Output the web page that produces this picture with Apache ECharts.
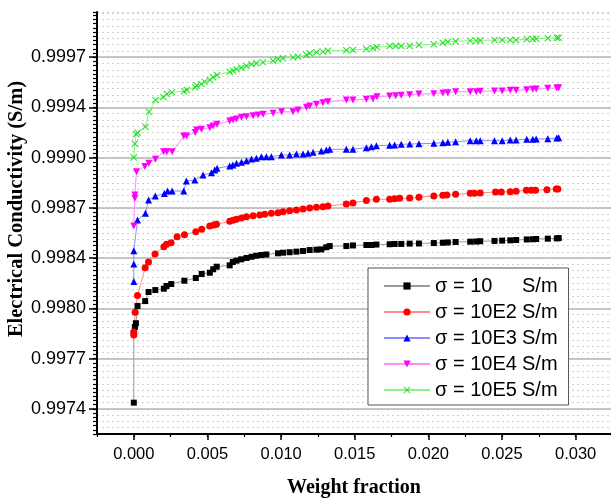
<!DOCTYPE html>
<html>
<head>
<meta charset="utf-8">
<script src="https://cdn.jsdelivr.net/npm/echarts@6/dist/echarts.min.js"></script>
<style>html,body{margin:0;padding:0;background:#fff;}#c{width:611px;height:499px;}</style>
</head>
<body>
<div id="c"></div>
<script>
// ---- data ----
const seriesNames = ['σ = 10 S/m', 'σ = 10E2 S/m', 'σ = 10E3 S/m', 'σ = 10E4 S/m', 'σ = 10E5 S/m'];

const xS1 = [0, 0, 0.00007, 0.00014, 0.00025, 0.00077, 0.00100, 0.00146, 0.00204, 0.00222, 0.00254, 0.00343, 0.00421, 0.00461, 0.00516, 0.00539, 0.00563, 0.00651, 0.00672, 0.00697, 0.00729, 0.00765, 0.00800, 0.00832, 0.00866, 0.00900, 0.00979, 0.01013, 0.01058, 0.01104, 0.01149, 0.01194, 0.01240, 0.01273, 0.01307, 0.01330, 0.01443, 0.01488, 0.01579, 0.01613, 0.01647, 0.01737, 0.01771, 0.01816, 0.01873, 0.01936, 0.02037, 0.02098, 0.02132, 0.02185, 0.02284, 0.02325, 0.02352, 0.02449, 0.02501, 0.02556, 0.02596, 0.02668, 0.02709, 0.02732, 0.02811, 0.02872, 0.02885];
const yS1 = [0.997408, 0.997870, 0.997910, 0.997935, 0.998049, 0.998082, 0.998142, 0.998155, 0.998164, 0.998182, 0.998195, 0.998217, 0.998235, 0.998262, 0.998270, 0.998293, 0.998310, 0.998319, 0.998341, 0.998350, 0.998359, 0.998368, 0.998376, 0.998383, 0.998388, 0.998391, 0.998399, 0.998403, 0.998406, 0.998410, 0.998414, 0.998421, 0.998423, 0.998425, 0.998439, 0.998447, 0.998447, 0.998451, 0.998454, 0.998454, 0.998457, 0.998459, 0.998461, 0.998461, 0.998463, 0.998464, 0.998467, 0.998469, 0.998471, 0.998474, 0.998476, 0.998477, 0.998479, 0.998481, 0.998483, 0.998485, 0.998487, 0.998491, 0.998492, 0.998494, 0.998496, 0.998498, 0.998500];

const xS2 = [0, 0, 0.00009, 0.00025, 0.00077, 0.00100, 0.00144, 0.00204, 0.00222, 0.00253, 0.00294, 0.00344, 0.00421, 0.00461, 0.00516, 0.00543, 0.00561, 0.00651, 0.00674, 0.00697, 0.00731, 0.00765, 0.00810, 0.00855, 0.00889, 0.00934, 0.00979, 0.01013, 0.01058, 0.01104, 0.01149, 0.01194, 0.01240, 0.01284, 0.01318, 0.01443, 0.01488, 0.01579, 0.01647, 0.01737, 0.01771, 0.01805, 0.01873, 0.01936, 0.02037, 0.02098, 0.02125, 0.02185, 0.02284, 0.02313, 0.02352, 0.02456, 0.02495, 0.02556, 0.02596, 0.02665, 0.02699, 0.02728, 0.02805, 0.02868, 0.02879];
const yS2 = [0.997857, 0.997877, 0.998008, 0.998119, 0.998303, 0.998341, 0.998394, 0.998443, 0.998459, 0.998469, 0.998509, 0.998522, 0.998542, 0.998558, 0.998580, 0.998587, 0.998591, 0.998611, 0.998618, 0.998625, 0.998633, 0.998642, 0.998648, 0.998653, 0.998658, 0.998664, 0.998668, 0.998675, 0.998682, 0.998686, 0.998693, 0.998700, 0.998704, 0.998708, 0.998713, 0.998726, 0.998733, 0.998749, 0.998757, 0.998757, 0.998761, 0.998764, 0.998766, 0.998771, 0.998779, 0.998784, 0.998786, 0.998790, 0.998797, 0.998797, 0.998799, 0.998806, 0.998806, 0.998808, 0.998810, 0.998817, 0.998817, 0.998817, 0.998821, 0.998826, 0.998826];

const xS3 = [0, 0, 0, 0.00025, 0.00079, 0.00100, 0.00146, 0.00207, 0.00229, 0.00260, 0.00339, 0.00357, 0.00414, 0.00470, 0.00527, 0.00549, 0.00565, 0.00651, 0.00672, 0.00697, 0.00731, 0.00765, 0.00799, 0.00832, 0.00866, 0.00900, 0.00934, 0.01002, 0.01058, 0.01104, 0.01149, 0.01183, 0.01217, 0.01273, 0.01307, 0.01330, 0.01443, 0.01488, 0.01579, 0.01613, 0.01647, 0.01737, 0.01771, 0.01816, 0.01873, 0.01936, 0.02037, 0.02098, 0.02132, 0.02185, 0.02284, 0.02325, 0.02352, 0.02449, 0.02501, 0.02556, 0.02596, 0.02668, 0.02709, 0.02732, 0.02811, 0.02872, 0.02885];
const yS3 = [0.998212, 0.998328, 0.998416, 0.998620, 0.998664, 0.998753, 0.998779, 0.998796, 0.998812, 0.998812, 0.998812, 0.998879, 0.998885, 0.998918, 0.998934, 0.998952, 0.998963, 0.998978, 0.998985, 0.998996, 0.999003, 0.999013, 0.999025, 0.999029, 0.999040, 0.999040, 0.999040, 0.999051, 0.999051, 0.999058, 0.999058, 0.999062, 0.999069, 0.999078, 0.999084, 0.999089, 0.999089, 0.999089, 0.999100, 0.999106, 0.999113, 0.999116, 0.999118, 0.999122, 0.999124, 0.999126, 0.999129, 0.999133, 0.999135, 0.999139, 0.999146, 0.999146, 0.999146, 0.999146, 0.999146, 0.999151, 0.999151, 0.999155, 0.999155, 0.999157, 0.999159, 0.999164, 0.999166];

const xS4 = [0, 0.00007, 0.00007, 0.00018, 0.00075, 0.00102, 0.00147, 0.00202, 0.00224, 0.00261, 0.00339, 0.00359, 0.00417, 0.00427, 0.00459, 0.00516, 0.00538, 0.00565, 0.00651, 0.00674, 0.00697, 0.00731, 0.00765, 0.00810, 0.00844, 0.00878, 0.00946, 0.01003, 0.01081, 0.01115, 0.01172, 0.01194, 0.01240, 0.01284, 0.01318, 0.01443, 0.01488, 0.01579, 0.01624, 0.01651, 0.01737, 0.01778, 0.01816, 0.01873, 0.01936, 0.02037, 0.02098, 0.02132, 0.02185, 0.02284, 0.02325, 0.02352, 0.02449, 0.02501, 0.02556, 0.02596, 0.02668, 0.02709, 0.02732, 0.02811, 0.02872, 0.02885];
const yS4 = [0.998580, 0.998764, 0.998786, 0.998940, 0.998975, 0.998996, 0.999023, 0.999073, 0.999073, 0.999073, 0.999177, 0.999177, 0.999200, 0.999217, 0.999222, 0.999232, 0.999244, 0.999255, 0.999277, 0.999283, 0.999290, 0.999301, 0.999305, 0.999312, 0.999317, 0.999321, 0.999328, 0.999338, 0.999338, 0.999350, 0.999368, 0.999376, 0.999388, 0.999398, 0.999405, 0.999416, 0.999416, 0.999421, 0.999425, 0.999438, 0.999443, 0.999445, 0.999447, 0.999451, 0.999456, 0.999458, 0.999463, 0.999465, 0.999471, 0.999471, 0.999471, 0.999474, 0.999476, 0.999476, 0.999480, 0.999480, 0.999484, 0.999487, 0.999489, 0.999494, 0.999496, 0.999498];

const xS5 = [0, 0.00007, 0.00016, 0.00025, 0.00079, 0.00103, 0.00147, 0.00201, 0.00224, 0.00259, 0.00341, 0.00360, 0.00417, 0.00427, 0.00459, 0.00481, 0.00516, 0.00538, 0.00565, 0.00651, 0.00674, 0.00697, 0.00731, 0.00765, 0.00799, 0.00832, 0.00877, 0.00945, 0.00979, 0.01013, 0.01081, 0.01115, 0.01172, 0.01194, 0.01240, 0.01284, 0.01318, 0.01443, 0.01488, 0.01579, 0.01624, 0.01651, 0.01737, 0.01778, 0.01816, 0.01873, 0.01936, 0.02037, 0.02098, 0.02132, 0.02185, 0.02284, 0.02325, 0.02352, 0.02449, 0.02501, 0.02556, 0.02596, 0.02668, 0.02709, 0.02732, 0.02811, 0.02872, 0.02885];
const yS5 = [0.999035, 0.999126, 0.999189, 0.999199, 0.999239, 0.999338, 0.999416, 0.999434, 0.999456, 0.999467, 0.999475, 0.999482, 0.999500, 0.999512, 0.999522, 0.999538, 0.999549, 0.999567, 0.999582, 0.999604, 0.999611, 0.999620, 0.999630, 0.999642, 0.999653, 0.999660, 0.999666, 0.999677, 0.999686, 0.999693, 0.999699, 0.999703, 0.999715, 0.999726, 0.999733, 0.999737, 0.999743, 0.999746, 0.999748, 0.999755, 0.999759, 0.999766, 0.999774, 0.999774, 0.999774, 0.999774, 0.999781, 0.999786, 0.999796, 0.999803, 0.999806, 0.999810, 0.999810, 0.999811, 0.999814, 0.999814, 0.999814, 0.999814, 0.999819, 0.999821, 0.999823, 0.999826, 0.999829, 0.999829];

const yMajorTicks = [0.997367, 0.9977, 0.998033, 0.998367, 0.9987, 0.999033, 0.999367, 0.9997];
const xMajorTicks = [0, 0.005, 0.010, 0.015, 0.020, 0.025, 0.030];

// ---- chart ----
const Y_MIN = 0.9972, Y_MAX = 1.0000;
const X_MIN = -0.0025, X_MAX = 0.0324;
const crossPath = 'path://M0,1L1,0L5,4L9,0L10,1L6,5L10,9L9,10L5,6L1,10L0,9L4,5Z';

function pairs(xs, ys) { return xs.map((x, i) => [x, ys[i]]); }

const styles = [
  { symbol: 'rect', size: 6, color: '#000000', line: '#9a9a9a', rot: 0 },
  { symbol: 'circle', size: 7, color: '#ff0000', line: '#ff8c8c', rot: 0 },
  { symbol: 'triangle', size: 7, color: '#0000ff', line: '#8c8cff', rot: 0 },
  { symbol: 'triangle', size: 7, color: '#ff00ff', line: '#ff8cff', rot: 180 },
  { symbol: crossPath, size: 7, color: '#22e022', line: '#8cf08c', rot: 0 }
];
const allData = [pairs(xS1, yS1), pairs(xS2, yS2), pairs(xS3, yS3), pairs(xS4, yS4), pairs(xS5, yS5)];

const series = seriesNames.map((n, i) => ({
  name: n,
  type: 'line',
  data: allData[i],
  symbol: styles[i].symbol,
  symbolSize: styles[i].size,
  symbolRotate: styles[i].rot,
  showAllSymbol: true,
  itemStyle: { color: styles[i].color },
  lineStyle: { color: styles[i].line, width: 1 },
  emphasis: { disabled: true },
  animation: false,
  z: 3
}));

const chart = echarts.init(document.getElementById('c'), null, { renderer: 'canvas' });
chart.setOption({
  animation: false,
  backgroundColor: '#ffffff',
  grid: { left: 97, right: 0, top: 12, bottom: 65, containLabel: false, outerBoundsMode: 'none' },
  legend: {
    orient: 'vertical',
    left: 368, top: 268,
    padding: [8, 11, 5, 15],
    itemWidth: 46, itemHeight: 9, itemGap: 6,
    backgroundColor: '#ffffff',
    borderColor: '#555555', borderWidth: 1,
    data: seriesNames,
    formatter: function (name) {
      const k = name.lastIndexOf(' ');
      return '{a|' + name.slice(0, k) + '}{b|' + name.slice(k + 1) + '}';
    },
    textStyle: {
      fontFamily: 'Liberation Sans', fontSize: 20, color: '#000',
      rich: {
        a: { fontFamily: 'Liberation Sans', fontSize: 20, width: 87, lineHeight: 20, color: '#000' },
        b: { fontFamily: 'Liberation Sans', fontSize: 20, lineHeight: 20, color: '#000' }
      }
    }
  },
  xAxis: [
    {
      type: 'value', position: 'bottom', min: X_MIN, max: X_MAX,
      name: 'Weight fraction', nameLocation: 'middle', nameGap: 44, nameMoveOverlap: false,
      nameTextStyle: { fontFamily: 'Liberation Serif', fontWeight: 'bold', fontSize: 20, color: '#000' },
      axisLine: { show: true, onZero: false, lineStyle: { color: '#000', width: 2 } },
      axisTick: { show: true, inside: false, length: 6, customValues: xMajorTicks, lineStyle: { color: '#000', width: 1.5 } },
      axisLabel: { show: true, customValues: xMajorTicks, margin: 12, fontFamily: 'Liberation Sans', fontSize: 16.5, color: '#000',
        formatter: v => v.toFixed(3) },
      splitLine: { show: false }
    },
    {
      type: 'value', position: 'bottom', min: X_MIN, max: X_MAX, interval: 0.0025,
      axisLine: { show: false, onZero: false },
      axisTick: { show: true, inside: false, length: 3, lineStyle: { color: '#000', width: 1.2 } },
      axisLabel: { show: false },
      splitLine: { show: false }
    }
  ],
  yAxis: [
    {
      type: 'value', position: 'left', min: Y_MIN, max: Y_MAX, z: 2,
      name: 'Electrical Conductivity (S/m)', nameLocation: 'middle', nameGap: 70, nameMoveOverlap: false,
      nameTextStyle: { fontFamily: 'Liberation Serif', fontWeight: 'bold', fontSize: 20.5, color: '#000', padding: [0, 0, 0, 28] },
      axisLine: { show: true, onZero: false, lineStyle: { color: '#000', width: 2 } },
      axisTick: { show: true, inside: false, length: 8, customValues: yMajorTicks, lineStyle: { color: '#000', width: 1.5 } },
      axisLabel: { show: true, customValues: yMajorTicks, margin: 11, fontFamily: 'Liberation Sans', fontSize: 18, color: '#000',
        formatter: v => v.toFixed(4) },
      splitLine: { show: true, lineStyle: { color: '#b4b4b4', width: 1.5, type: 'solid' } }
    },
    {
      type: 'value', position: 'left', min: Y_MIN, max: Y_MAX, interval: 1 / 36000, z: 1,
      axisLine: { show: false, onZero: false },
      axisTick: { show: true, inside: false, length: 4, lineStyle: { color: '#000', width: 1.2 } },
      axisLabel: { show: false },
      splitLine: { show: false }
    },
    {
      type: 'value', position: 'left', min: Y_MIN, max: Y_MAX, interval: 1 / 24000, z: 0,
      axisLine: { show: false, onZero: false },
      axisTick: { show: false },
      axisLabel: { show: false },
      splitLine: { show: true, lineStyle: { color: '#cfcfcf', width: 1, type: [2, 3] } }
    }
  ],
  series: series
});
</script>
</body>
</html>
